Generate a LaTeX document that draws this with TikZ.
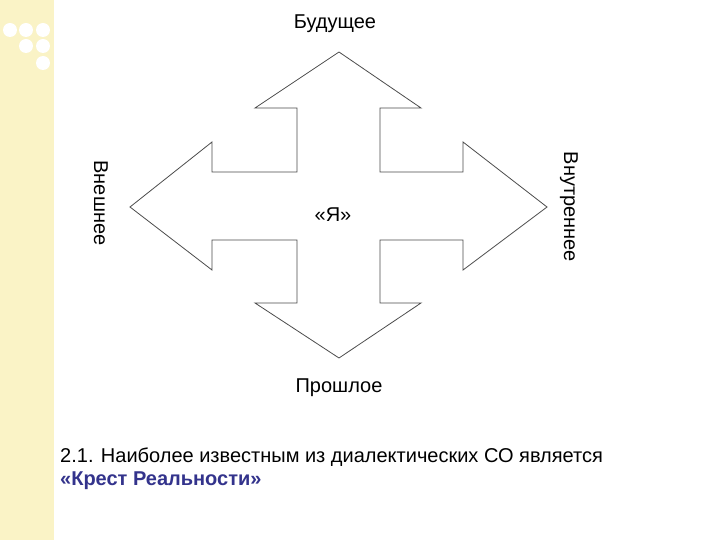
\documentclass[tikz,border=0pt]{standalone}
\usepackage{fontspec}
\setmainfont{Liberation Sans}
\begin{document}
\begin{tikzpicture}[x=1pt,y=-1pt,
  lbl/.style={font=\fontsize{20}{24}\selectfont, inner sep=0pt},
  dot/.style={fill=white, draw=none}]
\useasboundingbox (0,0) rectangle (720,540);
\fill[white] (0,0) rectangle (720,540);
\fill[fill={rgb,255:red,250;green,243;blue,198}] (0,0) rectangle (54,540);
\foreach \x/\y in {10/30,26/30,43/30,26/46,43/46,43/63}
  \fill[dot] (\x,\y) circle (7);
\draw[gray!60!black, line width=0.8pt]
 (339,52) -- (421,108) -- (380,108) -- (380,172) -- (463,172) -- (463,142) -- (547,207)
 -- (463,270) -- (463,240) -- (380,240) -- (380,303) -- (421,303) -- (339,358)
 -- (255,303) -- (297,303) -- (297,240) -- (212,240) -- (212,270) -- (130,207)
 -- (212,142) -- (212,172) -- (297,172) -- (297,108) -- (255,108) -- cycle;
\node[lbl] (fut) at (335,24) {Будущее};
\node[lbl] (past) at (339,388) {Прошлое};
\node[lbl] (me) at (333,215) {«Я»};
\node[lbl, rotate=-90] (out) at (101,203) {Внешнее};
\node[lbl, rotate=-90] (in) at (569,207) {Внутреннее};
\node[lbl, anchor=west] (t1) at (60,457) {2.1. Наиболее известным из диалектических СО является};
\node[lbl, anchor=west, text={rgb,255:red,51;green,51;blue,140}, font=\fontsize{20}{24}\selectfont\bfseries] (t2) at (60,481) {«Крест Реальности»};
\end{tikzpicture}
\end{document}
